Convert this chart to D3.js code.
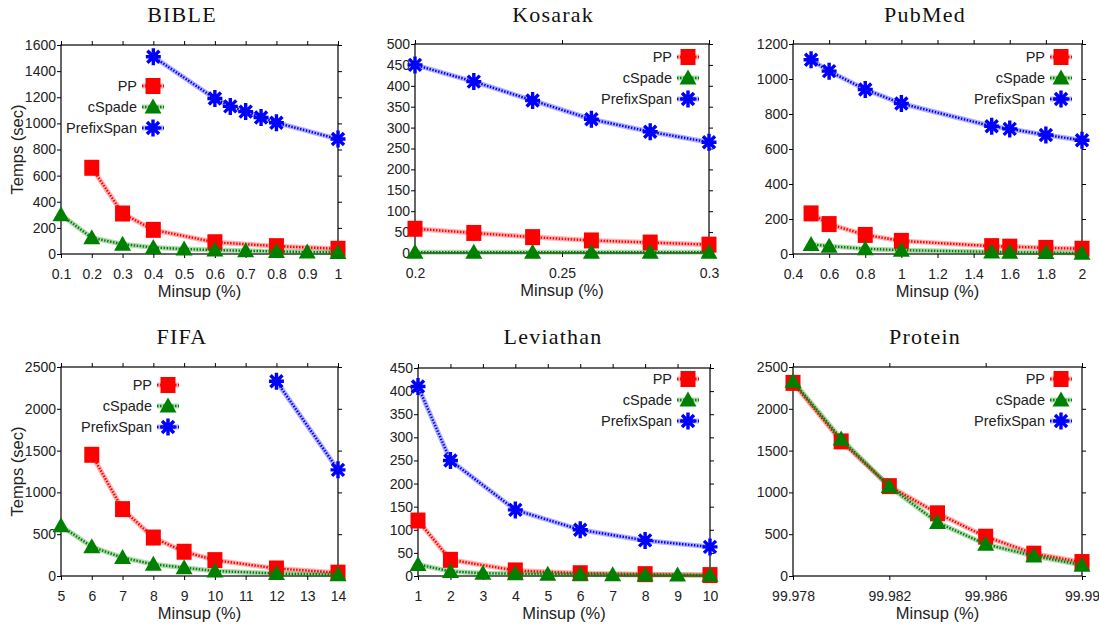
<!DOCTYPE html>
<html>
<head>
<meta charset="utf-8">
<script src="https://cdn.jsdelivr.net/npm/d3@7"></script>
<style>
  body { margin: 0; background: #fff; }
  text { font-family: "Liberation Sans", Arial, sans-serif; fill: #222; }
  .title { font-family: "Liberation Serif", "Times New Roman", serif; fill: #111; letter-spacing: 1.2px; }
</style>
</head>
<body>
<svg id="chart" width="1099" height="626"></svg>
<script>
var seriesNames = ["PP", "cSpade", "PrefixSpan"];
var seriesColors = ["#ff0000", "#008000", "#0000ff"];

// BIBLE
var bibleTicksX = [0.1, 0.2, 0.3, 0.4, 0.5, 0.6, 0.7, 0.8, 0.9, 1];
var bibleTicksY = [0, 200, 400, 600, 800, 1000, 1200, 1400, 1600];
var biblePPx = [0.2, 0.3, 0.4, 0.6, 0.8, 1];
var biblePP = [660, 310, 185, 90, 60, 40];
var bibleCSx = [0.1, 0.2, 0.3, 0.4, 0.5, 0.6, 0.7, 0.8, 0.9, 1];
var bibleCS = [300, 125, 75, 50, 38, 30, 25, 20, 15, 12];
var biblePSx = [0.4, 0.6, 0.65, 0.7, 0.75, 0.8, 1];
var biblePS = [1510, 1190, 1130, 1090, 1045, 1005, 880];

// Kosarak
var kosarakTicksX = [0.2, 0.25, 0.3];
var kosarakTicksY = [0, 50, 100, 150, 200, 250, 300, 350, 400, 450, 500];
var kosarakX = [0.2, 0.22, 0.24, 0.26, 0.28, 0.3];
var kosarakPP = [58, 48, 38, 30, 25, 20];
var kosarakCS = [2, 2, 2, 2, 2, 2];
var kosarakPS = [450, 410, 365, 320, 290, 265];

// PubMed
var pubmedTicksX = [0.4, 0.6, 0.8, 1, 1.2, 1.4, 1.6, 1.8, 2];
var pubmedTicksY = [0, 200, 400, 600, 800, 1000, 1200];
var pubmedX = [0.5, 0.6, 0.8, 1, 1.5, 1.6, 1.8, 2];
var pubmedPP = [232, 171, 109, 75, 45, 42, 35, 30];
var pubmedCS = [55, 45, 30, 22, 12, 10, 8, 5];
var pubmedPS = [1110, 1045, 940, 860, 730, 715, 680, 650];

// FIFA
var fifaTicksX = [5, 6, 7, 8, 9, 10, 11, 12, 13, 14];
var fifaTicksY = [0, 500, 1000, 1500, 2000, 2500];
var fifaPPx = [6, 7, 8, 9, 10, 12, 14];
var fifaPP = [1450, 800, 460, 290, 190, 90, 40];
var fifaCSx = [5, 6, 7, 8, 9, 10, 12, 14];
var fifaCS = [600, 350, 220, 140, 100, 60, 30, 15];
var fifaPSx = [12, 14];
var fifaPS = [2330, 1270];

// Leviathan
var levTicksX = [1, 2, 3, 4, 5, 6, 7, 8, 9, 10];
var levTicksY = [0, 50, 100, 150, 200, 250, 300, 350, 400, 450];
var levPPx = [1, 2, 4, 6, 8, 10];
var levPP = [120, 35, 12, 6, 4, 2];
var levCSx = [1, 2, 3, 4, 5, 6, 7, 8, 9, 10];
var levCS = [25, 10, 6, 5, 4, 3, 2.5, 2, 2, 1.5];
var levPSx = [1, 2, 4, 6, 8, 10];
var levPS = [410, 250, 143, 100, 77, 63];

// Protein
var proteinTicksX = [99.978, 99.982, 99.986, 99.99];
var proteinTicksY = [0, 500, 1000, 1500, 2000, 2500];
var proteinX = [99.978, 99.98, 99.982, 99.984, 99.986, 99.988, 99.99];
var proteinPP = [2310, 1610, 1075, 750, 470, 267, 167];
var proteinCS = [2330, 1640, 1070, 640, 380, 240, 130];
var proteinPS = [];

var panels = [
  {title: "BIBLE", x0: 61, x1: 338, y0: 45, y1: 254, tx: 182, ty: 22,
   xt: bibleTicksX, yt: bibleTicksY, ylabel: true, lx: 137, ly: 86,
   series: [[biblePPx, biblePP], [bibleCSx, bibleCS], [biblePSx, biblePS]]},
  {title: "Kosarak", x0: 415, x1: 709, y0: 44, y1: 253, tx: 553, ty: 22,
   xt: kosarakTicksX, yt: kosarakTicksY, lx: 672, ly: 57,
   series: [[kosarakX, kosarakPP], [kosarakX, kosarakCS], [kosarakX, kosarakPS]]},
  {title: "PubMed", x0: 793, x1: 1082, y0: 44, y1: 254, tx: 925, ty: 22,
   xt: pubmedTicksX, yt: pubmedTicksY, lx: 1045, ly: 57,
   series: [[pubmedX, pubmedPP], [pubmedX, pubmedCS], [pubmedX, pubmedPS]]},
  {title: "FIFA", x0: 61, x1: 338, y0: 367, y1: 576, tx: 182, ty: 344,
   xt: fifaTicksX, yt: fifaTicksY, ylabel: true, lx: 152, ly: 385,
   series: [[fifaPPx, fifaPP], [fifaCSx, fifaCS], [fifaPSx, fifaPS]]},
  {title: "Leviathan", x0: 418, x1: 710, y0: 368, y1: 576, tx: 553, ty: 344,
   xt: levTicksX, yt: levTicksY, lx: 672, ly: 379,
   series: [[levPPx, levPP], [levCSx, levCS], [levPSx, levPS]]},
  {title: "Protein", x0: 793, x1: 1082, y0: 367, y1: 576, tx: 925, ty: 344,
   xt: proteinTicksX, yt: proteinTicksY, lx: 1045, ly: 379,
   series: [[proteinX, proteinPP], [proteinX, proteinCS], [proteinX, proteinPS]]}
];

var svg = d3.select("#chart");
var fmt = function(d) { return String(+d.toFixed(3)); };

function drawMarker(g, type, cx, cy, color) {
  if (type === 0) {
    g.append("rect").attr("x", cx - 7.5).attr("y", cy - 8)
      .attr("width", 15).attr("height", 16).attr("fill", color);
  } else if (type === 1) {
    g.append("path")
      .attr("d", "M" + cx + "," + (cy - 8.5) + "L" + (cx + 8.5) + "," + (cy + 6.5) + "L" + (cx - 8.5) + "," + (cy + 6.5) + "Z")
      .attr("fill", color);
  } else {
    var rx = 7.5, ry = 8.5, q = 6;
    g.append("path")
      .attr("d", "M" + (cx - rx) + "," + cy + "H" + (cx + rx) +
        "M" + cx + "," + (cy - ry) + "V" + (cy + ry) +
        "M" + (cx - q) + "," + (cy - q) + "L" + (cx + q) + "," + (cy + q) +
        "M" + (cx - q) + "," + (cy + q) + "L" + (cx + q) + "," + (cy - q))
      .attr("stroke", color).attr("stroke-width", 3.4).attr("fill", "none");
  }
}

function drawLine(g, pts, color) {
  var line = d3.line();
  g.append("path").attr("d", line(pts)).attr("fill", "none")
    .attr("stroke", color).attr("stroke-opacity", 0.3).attr("stroke-width", 5);
  g.append("path").attr("d", line(pts)).attr("fill", "none")
    .attr("stroke", color).attr("stroke-width", 2.4).attr("stroke-dasharray", "1.5,1.5");
}

panels.forEach(function(p) {
  var xt = p.xt, yt = p.yt;
  var x = d3.scaleLinear().domain([xt[0], xt[xt.length - 1]]).range([p.x0, p.x1]);
  var y = d3.scaleLinear().domain([yt[0], yt[yt.length - 1]]).range([p.y1, p.y0]);
  var g = svg.append("g");

  g.append("text").attr("class", "title").attr("x", p.tx).attr("y", p.ty)
    .attr("text-anchor", "middle").style("font-size", "22px").text(p.title);

  // axes with outward ticks on all four sides
  g.append("g").attr("transform", "translate(0," + p.y1 + ")")
    .call(d3.axisBottom(x).tickValues(xt).tickFormat(fmt).tickSize(4).tickPadding(11))
    .call(function(a) { a.select(".domain").remove(); });
  g.append("g").attr("transform", "translate(0," + p.y0 + ")")
    .call(d3.axisTop(x).tickValues(xt).tickFormat("").tickSize(4))
    .call(function(a) { a.select(".domain").remove(); });
  g.append("g").attr("transform", "translate(" + p.x0 + ",0)")
    .call(d3.axisLeft(y).tickValues(yt).tickFormat(d3.format("d")).tickSize(4).tickPadding(1))
    .call(function(a) { a.select(".domain").remove(); });
  g.append("g").attr("transform", "translate(" + p.x1 + ",0)")
    .call(d3.axisRight(y).tickValues(yt).tickFormat("").tickSize(4))
    .call(function(a) { a.select(".domain").remove(); });
  g.selectAll(".tick text").style("font-size", "14px").attr("fill", "#222");
  g.selectAll(".tick line").attr("stroke", "#000");

  g.append("rect").attr("x", p.x0).attr("y", p.y0)
    .attr("width", p.x1 - p.x0).attr("height", p.y1 - p.y0)
    .attr("fill", "none").attr("stroke", "#000").attr("stroke-width", 1.2);

  g.append("text").attr("x", (p.x0 + p.x1) / 2).attr("y", p.y1 + 43)
    .attr("text-anchor", "middle").style("font-size", "16.5px").text("Minsup (%)");
  if (p.ylabel) {
    g.append("text").attr("transform", "translate(23," + (p.y0 + p.y1) / 2 + ") rotate(-90)")
      .attr("text-anchor", "middle").style("font-size", "16.5px").text("Temps (sec)");
  }

  // series
  p.series.forEach(function(s, i) {
    var pts = s[0].map(function(v, j) { return [x(v), y(s[1][j])]; });
    drawLine(g, pts, seriesColors[i]);
    pts.forEach(function(pt) { drawMarker(g, i, pt[0], pt[1], seriesColors[i]); });
  });

  // legend
  seriesNames.forEach(function(name, i) {
    var ly = p.ly + i * 21;
    g.append("text").attr("x", p.lx).attr("y", ly + 5)
      .attr("text-anchor", "end").style("font-size", "14.5px").text(name);
    drawLine(g, [[p.lx + 5, ly], [p.lx + 27, ly]], seriesColors[i]);
    drawMarker(g, i, p.lx + 16, ly, seriesColors[i]);
  });
});
</script>
</body>
</html>
